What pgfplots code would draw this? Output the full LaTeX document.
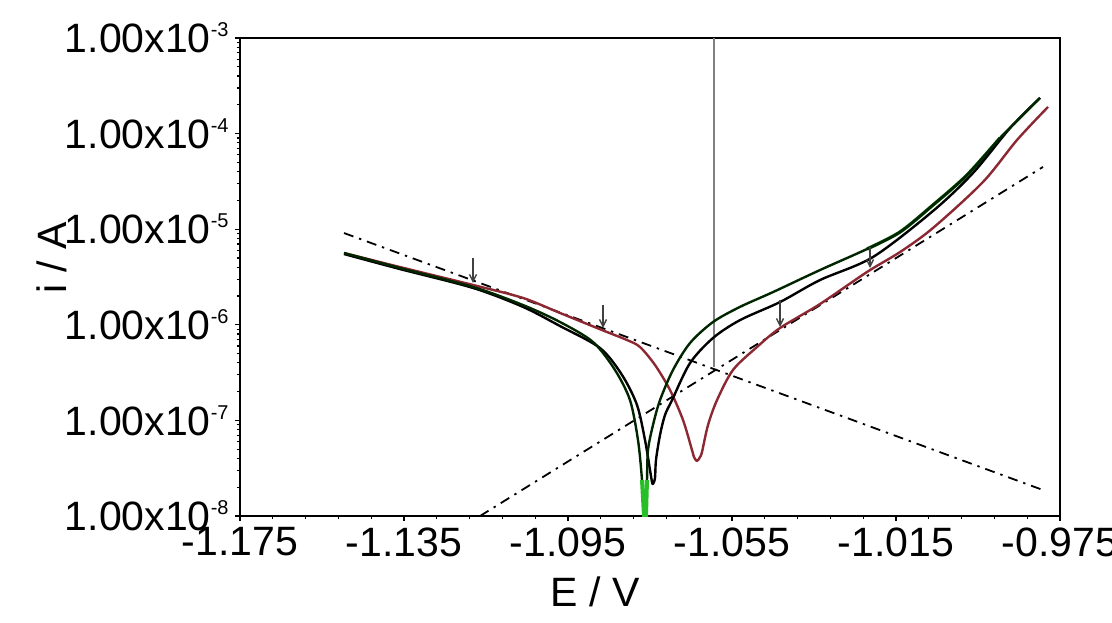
\documentclass[border=0pt]{standalone}
\usepackage{pgfplots}
\pgfplotsset{compat=1.18}
\usepackage{fontspec}
\setmainfont{Liberation Sans}
\usetikzlibrary{arrows.meta}
\definecolor{cred}{RGB}{140,40,50}
\definecolor{cgreen}{RGB}{40,190,40}
\newcommand\sx[1]{\raisebox{8pt}{\fontsize{10}{10}\selectfont #1}}
\begin{document}
\begin{tikzpicture}
\path[use as bounding box] (-120pt,-53pt) rectangle (436pt,258pt);
\begin{axis}[
  at={(0pt,0pt)}, anchor=south west,
  scale only axis, width=410pt, height=239pt,
  xmin=-1.175, xmax=-0.975, ymin=1e-8, ymax=1e-3, ymode=log,
  xtick={-1.175,-1.135,-1.095,-1.055,-1.015,-0.975},
  xticklabels={-1.175,-1.135,-1.095,-1.055,-1.015,-0.975},
  minor x tick num=4,
  ytick={1e-8,1e-7,1e-6,1e-5,1e-4,1e-3},
  yticklabels={1.00x10\sx{-8},1.00x10\sx{-7},1.00x10\sx{-6},1.00x10\sx{-5},1.00x10\sx{-4},1.00x10\sx{-3}},
  tick align=outside, tick pos=left,
  major tick length=2.5pt, minor tick length=1.5pt,
  every tick/.style={black, line width=0.6pt},
  axis line style={line width=1pt},
  ticklabel style={font=\fontsize{20.5}{24}\selectfont},
  xticklabel style={inner sep=0pt, yshift=-3pt},
  yticklabel style={inner sep=0pt, anchor=base east, yshift=-7.3pt, xshift=-3pt},
  xlabel={E / V}, ylabel={i / A},
  label style={font=\fontsize{20.5}{24}\selectfont},
  xlabel style={at={(axis description cs:0.433,-0.159)}, anchor=center},
  ylabel style={at={(axis description cs:-0.229,0.54)}, anchor=center, rotate=0},
  every axis plot/.append style={line join=round},
]
% Tafel lines
\addplot[black, line width=0.9pt, dash pattern=on 5pt off 3pt on 1.2pt off 3pt] coordinates {(-1.14963,9.12e-6) (-0.97915,1.87e-8)};
\addplot[black, line width=0.9pt, dash pattern=on 5pt off 3pt on 1.2pt off 3pt] coordinates {(-1.11646,1.0e-8) (-0.97915,4.48e-5)};
% gray vertical line (Ecorr)
\addplot[gray, line width=1pt] coordinates {(-1.05927,1e-3) (-1.05927,3.62e-7)};
% green tint under curve A
\addplot[cgreen!50!black, line width=1.7pt, smooth, tension=0.5] coordinates {
(-1.02207,6.21e-6) (-1.01402,9.35e-6) (-1.00598,1.79e-5) (-0.99768,3.69e-5) (-0.98963,9.0e-5)};
% red curve
\addplot[cred, line width=1.2pt, smooth, tension=0.5] coordinates {
(-1.14963,5.64e-6) (-1.13598,4.02e-6) (-1.11817,2.61e-6) (-1.10598,1.91e-6)
(-1.09695,1.33e-6) (-1.08671,8.82e-7) (-1.08061,6.93e-7) (-1.07744,5.86e-7)
(-1.07378,3.80e-7) (-1.07012,2.08e-7) (-1.06695,1.01e-7) (-1.06476,4.90e-8)
(-1.06427,4.14e-8) (-1.06354,3.76e-8) (-1.06280,4.14e-8) (-1.06232,4.67e-8)
(-1.06085,8.95e-8) (-1.05866,1.63e-7) (-1.05476,3.37e-7) (-1.04890,5.86e-7)
(-1.04329,9.26e-7) (-1.03354,1.65e-6) (-1.02207,3.57e-6) (-1.01402,5.77e-6)
(-1.00598,1.03e-5) (-0.99378,3.12e-5) (-0.98549,8.57e-5) (-0.97793,1.90e-4)};
% curve B (black)
\addplot[black, line width=1.2pt, smooth, tension=0.5] coordinates {
(-1.14963,5.50e-6) (-1.13598,3.83e-6) (-1.11817,2.43e-6) (-1.10598,1.54e-6)
(-1.09695,9.71e-7) (-1.08720,5.72e-7) (-1.08183,2.99e-7) (-1.07817,1.45e-7)
(-1.07622,6.24e-8) (-1.07500,3.03e-8) (-1.07451,2.27e-8) (-1.07427,2.16e-8)
(-1.07378,2.5e-8) (-1.07354,3.85e-8) (-1.07256,7.03e-8) (-1.07134,1.14e-7)
(-1.06963,1.63e-7) (-1.06524,3.98e-7) (-1.05963,7.28e-7) (-1.05305,1.12e-6)
(-1.04329,1.73e-6) (-1.03354,2.94e-6) (-1.02061,5.12e-6) (-1.00598,1.55e-5)
(-0.99622,3.87e-5) (-0.98720,1.14e-4) (-0.97988,2.36e-4)};
% curve A (black, green minimum)
\addplot[black!85!green, line width=1.2pt, smooth, tension=0.5] coordinates {
(-1.14963,5.64e-6) (-1.13598,3.93e-6) (-1.11817,2.49e-6) (-1.10598,1.61e-6)
(-1.09695,1.07e-6) (-1.08890,6.61e-7) (-1.08354,3.37e-7) (-1.07988,1.63e-7)
(-1.07793,6.24e-8) (-1.07695,2.38e-8) (-1.07646,1.0e-8) (-1.07622,7.1e-9)
(-1.07598,1.0e-8) (-1.07573,2.38e-8) (-1.07549,4.90e-8) (-1.07427,8.95e-8)
(-1.07256,1.63e-7) (-1.06939,3.37e-7) (-1.06524,6.45e-7) (-1.05963,1.07e-6)
(-1.05305,1.54e-6) (-1.04500,2.20e-6) (-1.03354,3.74e-6) (-1.02207,6.21e-6)
(-1.01402,9.35e-6) (-1.00598,1.79e-5) (-0.99768,3.69e-5) (-0.98963,9.0e-5)
(-0.98476,1.46e-4) (-0.97988,2.36e-4)};
\addplot[cgreen, line width=2pt] coordinates {
(-1.07695,2.38e-8) (-1.07646,1.0e-8) (-1.07622,7.1e-9) (-1.07598,1.0e-8) (-1.07573,2.38e-8)};
% arrows marking Tafel fit regions
\addplot[gray!50!black, line width=0.7pt, -{Straight Barb[length=3.5pt,width=3.5pt]}] coordinates {(-1.11817,5.0e-6) (-1.11817,2.74e-6)};
\addplot[gray!50!black, line width=0.7pt, -{Straight Barb[length=3.5pt,width=3.5pt]}] coordinates {(-1.08646,1.61e-6) (-1.08646,9.26e-7)};
\addplot[gray!50!black, line width=0.7pt, -{Straight Barb[length=3.5pt,width=3.5pt]}] coordinates {(-1.04329,1.82e-6) (-1.04329,9.48e-7)};
\addplot[gray!50!black, line width=0.7pt, -{Straight Barb[length=3.5pt,width=3.5pt]}] coordinates {(-1.02134,6.51e-6) (-1.02134,3.93e-6)};
\end{axis}
\end{tikzpicture}
\end{document}
